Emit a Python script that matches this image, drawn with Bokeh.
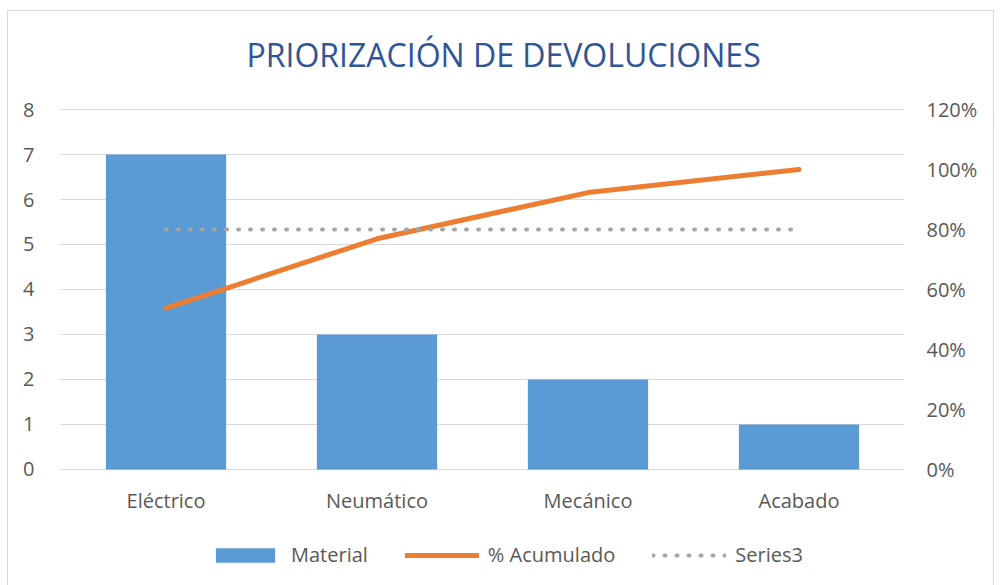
from bokeh.plotting import figure
from bokeh.models import (ColumnDataSource, FactorRange, Range1d, LinearAxis,
                          FixedTicker, NumeralTickFormatter, Legend, LegendItem, Label)
from bokeh.core.properties import value
from bokeh.embed import file_html
from bokeh.resources import INLINE

categories = ["Eléctrico", "Neumático", "Mecánico", "Acabado"]
material = [7, 3, 2, 1]
acumulado = [0.538, 0.769, 0.923, 1.0]
series3 = [0.8, 0.8, 0.8, 0.8]

left_ticks = [0, 1, 2, 3, 4, 5, 6, 7, 8]
right_ticks = [0, 0.2, 0.4, 0.6, 0.8, 1.0, 1.2]

TITLE = "PRIORIZACIÓN DE DEVOLUCIONES"
FONT = "Open Sans"
TEXT = "#595959"
GRID = "#D9D9D9"

# value axis 0..8, with room above for the title and below for the
# category names and legend (45 px per unit)
Y_TOP, Y_BOTTOM = 10.178, -2.267
PCT_SCALE = 1.2 / 8

src = ColumnDataSource(dict(cat=categories, material=material,
                            acumulado=acumulado, series3=series3,
                            label_y=[-0.69] * len(categories)))

p = figure(x_range=FactorRange(*categories, range_padding=0),
           y_range=Range1d(Y_BOTTOM, Y_TOP),
           width=987, height=580, title=None,
           output_backend="svg", toolbar_location=None,
           min_border_left=52, min_border_right=91,
           min_border_top=0, min_border_bottom=20,
           background_fill_color="white", border_fill_color="white")
p.styles = {"border": "1px solid #D9D9D9", "margin-left": "7px", "margin-top": "10px"}
p.outline_line_color = None

p.extra_y_ranges = {"pct": Range1d(Y_BOTTOM * PCT_SCALE, Y_TOP * PCT_SCALE)}

bars = p.vbar(x="cat", top="material", width=0.57, source=src,
              fill_color="#5B9BD5", line_color=None)
line = p.line(x="cat", y="acumulado", source=src, y_range_name="pct",
              line_color="#ED7D31", line_width=5, line_cap="round", line_join="round")
dots = p.line(x="cat", y="series3", source=src, y_range_name="pct",
              line_color="#A5A5A5", line_width=4, line_dash="1 11", line_cap="round")

# category names under the bars
p.text(x="cat", y="label_y", text="cat", source=src,
       text_align="center", text_baseline="middle",
       text_font=value(FONT), text_font_size="20px", text_color=TEXT)

p.add_layout(Label(x=2.1, y=9.22, text=TITLE, text_align="center",
                   text_baseline="alphabetic", text_font=FONT,
                   text_font_size="32px", text_color="#2F5597"))

# left axis
ya = p.yaxis[0]
ya.ticker = FixedTicker(ticks=left_ticks)
# right axis
ra = LinearAxis(y_range_name="pct", ticker=FixedTicker(ticks=right_ticks),
                formatter=NumeralTickFormatter(format="0%"))
p.add_layout(ra, "right")

for ax in [ya, ra]:
    ax.axis_line_color = None
    ax.major_tick_line_color = None
    ax.minor_tick_line_color = None
    ax.major_label_text_font = FONT
    ax.major_label_text_font_size = "20px"
    ax.major_label_text_color = TEXT
ya.major_label_standoff = 20
ra.major_label_standoff = 16
p.xaxis.visible = False

p.xgrid.grid_line_color = None
p.ygrid.grid_line_color = GRID
p.ygrid.grid_line_width = 1

legend = Legend(items=[LegendItem(label="Material", renderers=[bars]),
                       LegendItem(label="% Acumulado", renderers=[line]),
                       LegendItem(label="Series3", renderers=[dots])],
                orientation="horizontal", location=(148, 3),
                glyph_width=74, glyph_height=18, label_standoff=9, spacing=37,
                padding=0, margin=0, border_line_color=None,
                background_fill_alpha=0,
                label_text_font=FONT, label_text_font_size="20px",
                label_text_color=TEXT)
p.add_layout(legend, "center")

open("out.html", "w").write(file_html(p, INLINE))
